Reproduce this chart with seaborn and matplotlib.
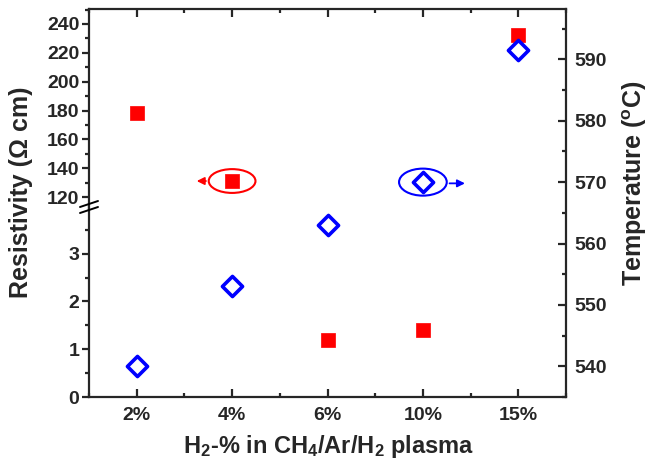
import numpy as np
import pandas as pd
import matplotlib
matplotlib.use("Agg")
import matplotlib.pyplot as plt
import seaborn as sns
from matplotlib.patches import Ellipse
from matplotlib.lines import Line2D
from matplotlib.ticker import MultipleLocator, FixedLocator

# data
categories = ['2%', '4%', '6%', '10%', '15%']
resistivity = [178.3, 131.1, 1.19, 1.40, 232.4]   # Ohm cm
temperature = [540.0, 553.0, 563.0, 570.0, 591.5]  # deg C

df = pd.DataFrame({'pos': np.arange(len(categories)),
                   'cat': categories,
                   'res': resistivity,
                   'temp': temperature})

sns.set_style("ticks")
plt.rcParams['font.family'] = ['Liberation Sans', 'DejaVu Sans']
plt.rcParams['font.weight'] = 'bold'
plt.rcParams['mathtext.fontset'] = 'custom'
plt.rcParams['mathtext.rm'] = 'Liberation Sans:bold'
plt.rcParams['mathtext.bf'] = 'Liberation Sans:bold'
plt.rcParams['mathtext.it'] = 'Liberation Sans:bold'
plt.rcParams['mathtext.default'] = 'rm'

W, H = 650, 466
fig = plt.figure(figsize=(6.5, 4.66), dpi=100)

def rect(x0, y_top, x1, y_bot):
    return [x0 / W, 1 - y_bot / H, (x1 - x0) / W, (y_bot - y_top) / H]

x0, x1 = 89, 566
ax_lo = fig.add_axes(rect(x0, 205, x1, 397))
ax_hi = fig.add_axes(rect(x0, 9, x1, 209))
ax_t = fig.add_axes(rect(x0, 9, x1, 397))
ax_t.patch.set_visible(False)

red = '#ff0000'
blue = '#0000ff'
for ax in (ax_lo, ax_hi):
    sns.scatterplot(data=df, x='pos', y='res', ax=ax, marker='s', s=115,
                    color=red, edgecolor=red, linewidth=0.5, legend=False, zorder=3)
sns.scatterplot(data=df, x='pos', y='temp', ax=ax_t, marker='D', s=105,
                facecolor='white', edgecolor=blue, linewidth=2.6, legend=False, zorder=3)

xlim = (-0.5, len(categories) - 0.5)
for ax in (ax_lo, ax_hi, ax_t):
    ax.set_xlim(*xlim)
    ax.set_xlabel('')
    ax.set_ylabel('')

lw = 1.6
ax_lo.set_ylim(0, 4.02)
ax_hi.set_ylim(111.7, 250.4)
ax_t.set_ylim(535, 598.2)

# lower resistivity axis
ax_lo.yaxis.set_major_locator(FixedLocator([0, 1, 2, 3]))
ax_lo.yaxis.set_minor_locator(FixedLocator([0.5, 1.5, 2.5, 3.5]))
ax_lo.set_xticks(df['pos'])
ax_lo.set_xticklabels(categories)
ax_lo.xaxis.set_minor_locator(MultipleLocator(0.5))
for s in ['top', 'right']:
    ax_lo.spines[s].set_visible(False)
for s in ['left', 'bottom']:
    ax_lo.spines[s].set_linewidth(lw)
ax_lo.tick_params(axis='y', which='major', direction='out', length=5, width=lw, labelsize=14, pad=2)
ax_lo.tick_params(axis='y', which='minor', direction='out', length=3, width=lw)
ax_lo.tick_params(axis='x', which='major', direction='in', length=6, width=lw, labelsize=14, pad=7)
ax_lo.tick_params(axis='x', which='minor', direction='in', length=3, width=lw)

# upper resistivity axis
ax_hi.yaxis.set_major_locator(MultipleLocator(20))
ax_hi.yaxis.set_minor_locator(MultipleLocator(10))
ax_hi.set_xticks(df['pos'])
ax_hi.xaxis.set_minor_locator(MultipleLocator(0.5))
ax_hi.xaxis.tick_top()
ax_hi.tick_params(axis='x', which='both', labeltop=False, labelbottom=False)
for s in ['bottom', 'right']:
    ax_hi.spines[s].set_visible(False)
for s in ['left', 'top']:
    ax_hi.spines[s].set_linewidth(lw)
ax_hi.tick_params(axis='y', which='major', direction='out', length=5, width=lw, labelsize=14, pad=2)
ax_hi.tick_params(axis='y', which='minor', direction='out', length=3, width=lw)
ax_hi.tick_params(axis='x', which='major', direction='in', length=6, width=lw)
ax_hi.tick_params(axis='x', which='minor', direction='in', length=3, width=lw)

# temperature axis on the right
for s in ['left', 'top', 'bottom']:
    ax_t.spines[s].set_visible(False)
ax_t.spines['right'].set_linewidth(lw)
ax_t.set_xticks([])
ax_t.yaxis.tick_right()
ax_t.yaxis.set_major_locator(MultipleLocator(10))
ax_t.yaxis.set_minor_locator(MultipleLocator(5))
ax_t.tick_params(axis='y', which='major', direction='in', length=6, width=lw, labelsize=14, pad=6)
ax_t.tick_params(axis='y', which='minor', direction='in', length=3, width=lw)

# axis break marks on the left spine
for dy in (-3, 3):
    ya = 207 + dy
    fig.add_artist(Line2D([(x0 - 9) / W, (x0 + 9) / W],
                          [1 - (ya + 3) / H, 1 - (ya - 3) / H],
                          color='black', lw=1.4))

# ellipses with arrows pointing to the proper axis
ax_hi.add_patch(Ellipse((1, 131.1), 0.49, 16.5, fill=False, edgecolor=red, lw=1.5, zorder=4))
ax_hi.annotate('', xy=(0.6, 131.1), xytext=(0.755, 131.1),
               arrowprops=dict(arrowstyle='-|>', color=red, lw=1.3, mutation_scale=11))
ax_t.add_patch(Ellipse((3, 570), 0.5, 4.4, fill=False, edgecolor=blue, lw=1.5, zorder=4))
ax_t.annotate('', xy=(3.47, 569.8), xytext=(3.25, 569.8),
              arrowprops=dict(arrowstyle='-|>', color=blue, lw=1.3, mutation_scale=11))

fig.text(0.032, 1 - 192 / H, 'Resistivity (\u03a9 cm)', rotation=90, ha='center', va='center',
         fontsize=18, fontweight='bold')
fig.text(0.976, 1 - 183 / H, r'Temperature ($^{\mathrm{o}}$C)', rotation=90, ha='center', va='center',
         fontsize=18, fontweight='bold')
fig.text(0.505, 1 - 447 / H, r'H$_{\mathrm{2}}$-% in CH$_{\mathrm{4}}$/Ar/H$_{\mathrm{2}}$ plasma',
         ha='center', va='center', fontsize=17, fontweight='bold')

fig.savefig('out.png', dpi=100)
